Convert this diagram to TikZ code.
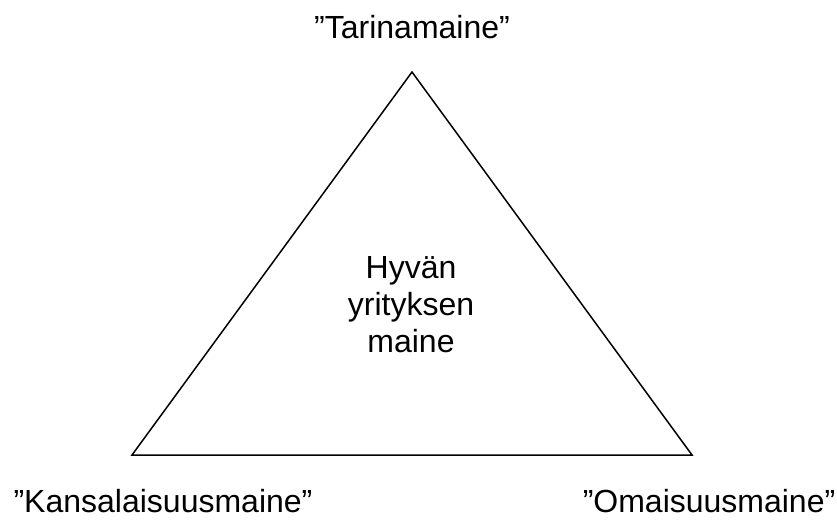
\documentclass[tikz,border=0pt]{standalone}
\usepackage{fontspec}
\setmainfont{Liberation Sans}
\usetikzlibrary{calc}

\begin{document}
\begin{tikzpicture}[x=1pt,y=1pt,every node/.style={font=\fontsize{32}{37}\selectfont,align=center,inner sep=0pt},edge/.style={line width=1.5pt,line join=miter}]
      \useasboundingbox (0,0) rectangle (837,523);
      \coordinate (story) at (412,451);
      \coordinate (citizen) at (132,68);
      \coordinate (asset) at (692,68);

      \draw[edge] (story) -- (citizen) -- (asset) -- cycle;

      \node[anchor=base] (story label) at ($ (story) + (0,33) $) {”Tarinamaine”};
      \node[anchor=base] (citizen label) at (163,11) {”Kansalaisuusmaine”};
      \node[anchor=base] (asset label) at (709,11) {”Omaisuusmaine”};
      \node[anchor=base] (good name) at (411,171) {Hyvän\\yrityksen\\maine};
    \end{tikzpicture}
\end{document}
